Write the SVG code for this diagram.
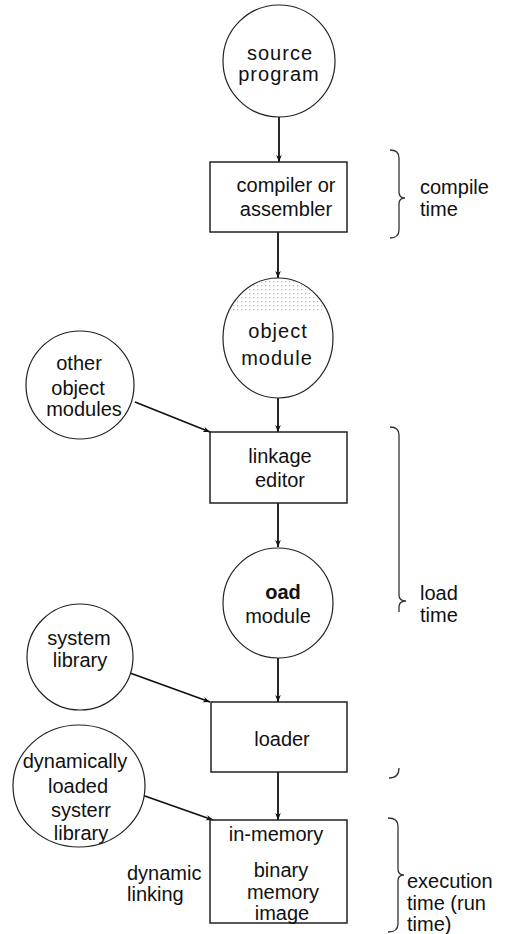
<svg xmlns="http://www.w3.org/2000/svg" width="511" height="934" viewBox="0 0 511 934">
<defs>
<style>
.t{font-family:"Liberation Sans",Arial,sans-serif;font-size:20px;fill:#111;text-anchor:middle}
.l{text-anchor:start}
.node{fill:#fff;stroke:#222;stroke-width:1.2}
.box{fill:#fff;stroke:#222;stroke-width:1.5}
.edge{stroke:#111;stroke-width:1.8;fill:none}
.brace{stroke:#333;stroke-width:1.3;fill:none}
</style>
<marker id="ah" viewBox="0 0 10 10" refX="10" refY="5" markerWidth="7" markerHeight="7" markerUnits="userSpaceOnUse" orient="auto">
<path d="M0,1 L10,5 L0,9 L3,5 Z" fill="#111"/>
</marker>
<pattern id="dots" width="4" height="4" patternUnits="userSpaceOnUse">
<rect x="1" y="1" width="1.2" height="1.2" fill="#b8b8b8"/>
</pattern>
<clipPath id="cap"><rect x="215" y="276" width="130" height="36"/></clipPath>
</defs>

<g id="connectors">
<line class="edge" x1="279" y1="117" x2="279" y2="162" marker-end="url(#ah)"/>
<line class="edge" x1="278" y1="232" x2="278" y2="278" marker-end="url(#ah)"/>
<line class="edge" x1="278" y1="398" x2="278" y2="432" marker-end="url(#ah)"/>
<line class="edge" x1="135" y1="402" x2="210" y2="432" marker-end="url(#ah)"/>
<line class="edge" x1="278" y1="503" x2="278" y2="547" marker-end="url(#ah)"/>
<line class="edge" x1="278" y1="658" x2="278" y2="702" marker-end="url(#ah)"/>
<line class="edge" x1="130" y1="673" x2="210" y2="702" marker-end="url(#ah)"/>
<line class="edge" x1="278" y1="772" x2="278" y2="820" marker-end="url(#ah)"/>
<line class="edge" x1="142" y1="795" x2="213" y2="820" marker-end="url(#ah)"/>
</g>

<g id="source-program">
<circle class="node" cx="279" cy="61" r="56"/>
<text class="t" x="280" y="60" font-size="21" letter-spacing="1">source</text>
<text class="t" x="279" y="81" font-size="21" letter-spacing="1">program</text>
</g>

<g id="compiler">
<rect class="box" x="210" y="162" width="137" height="70"/>
<text class="t" x="286" y="192" font-size="19">compiler or</text>
<text class="t" x="286" y="216" font-size="19">assembler</text>
</g>

<g id="compile-time">
<path class="brace" d="M390,150 Q399,150 399,158 L399,192 Q399,198 405,198 Q399,198 399,204 L399,230 Q399,238 390,238"/>
<text class="t l" x="420" y="194">compile</text>
<text class="t l" x="420" y="216">time</text>
</g>

<g id="object-module">
<ellipse class="node" cx="278" cy="338" rx="55" ry="60"/>
<ellipse cx="278" cy="338" rx="54" ry="59" fill="url(#dots)" clip-path="url(#cap)"/>
<text class="t" x="278" y="338" font-size="21" letter-spacing="1">object</text>
<text class="t" x="277" y="365" font-size="21" letter-spacing="1">module</text>
</g>

<g id="other-object-modules">
<circle class="node" cx="80" cy="385" r="54"/>
<text class="t" x="79" y="370" font-size="21">other</text>
<text class="t" x="78" y="395" font-size="21">object</text>
<text class="t" x="84" y="416" font-size="21">modules</text>
</g>

<g id="linkage-editor">
<rect class="box" x="210" y="432" width="137" height="71"/>
<text class="t" x="280" y="463">linkage</text>
<text class="t" x="280" y="487">editor</text>
</g>

<g id="load-module">
<circle class="node" cx="278" cy="603" r="55"/>
<text class="t" x="283" y="599" font-size="30" font-weight="bold">oad</text>
<text class="t" x="278" y="623">module</text>
</g>

<g id="load-time">
<path class="brace" d="M390,427 Q399,427 399,435 L399,595 Q399,601 406,601 Q399,601 399,607 L399,612"/>
<path class="brace" d="M399,768 Q399,778 389,778"/>
<text class="t l" x="420" y="600" font-size="21">load</text>
<text class="t l" x="420" y="622" font-size="21">time</text>
</g>

<g id="system-library">
<circle class="node" cx="80" cy="657" r="53"/>
<text class="t" x="79" y="645">system</text>
<text class="t" x="80" y="667">library</text>
</g>

<g id="loader">
<rect class="box" x="211" y="702" width="136" height="70"/>
<text class="t" x="282" y="746">loader</text>
</g>

<g id="dynamic-library">
<ellipse class="node" cx="79" cy="786" rx="66" ry="61"/>
<text class="t" x="75" y="768" font-size="21">dynamically</text>
<text class="t" x="78" y="793" font-size="21">loaded</text>
<text class="t" x="81" y="817" font-size="21">systerr</text>
<text class="t" x="81" y="840" font-size="21">library</text>
</g>

<g id="in-memory-image">
<rect class="box" x="210" y="820" width="137" height="103"/>
<text class="t" x="276" y="841" font-size="19">in-memory</text>
<text class="t" x="281" y="877" font-size="19">binary</text>
<text class="t" x="283" y="899" font-size="19">memory</text>
<text class="t" x="282" y="920" font-size="19">image</text>
</g>

<g id="dynamic-linking">
<text class="t l" x="127" y="880" font-size="19">dynamic</text>
<text class="t l" x="127" y="901" font-size="19">linking</text>
</g>

<g id="execution-time">
<path class="brace" d="M388,818 Q398,818 398,826 L398,869 Q398,875 404,875 Q398,875 398,881 L398,924 Q398,932 388,932"/>
<text class="t l" x="407" y="888" font-size="21">execution</text>
<text class="t l" x="407" y="910" font-size="21">time (run</text>
<text class="t l" x="407" y="931" font-size="21">time)</text>
</g>
</svg>
